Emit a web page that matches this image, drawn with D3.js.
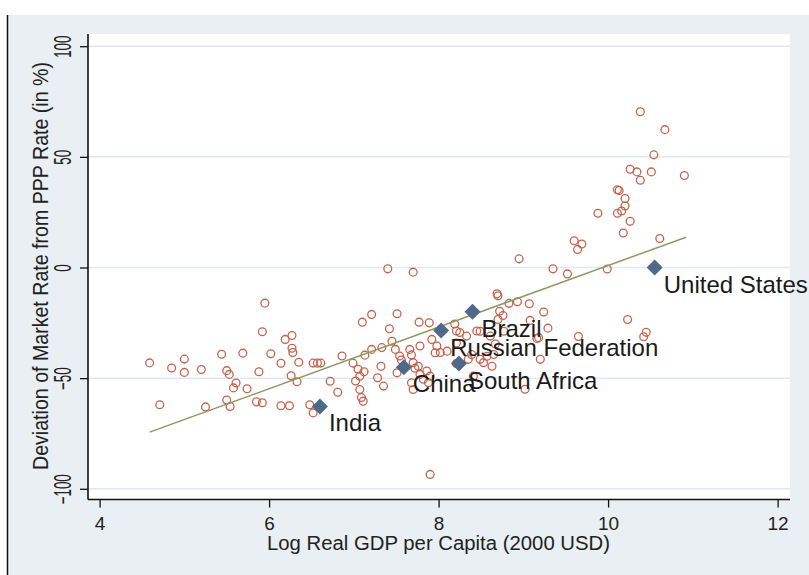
<!DOCTYPE html>
<html><head><meta charset="utf-8">
<script src="https://cdn.jsdelivr.net/npm/d3@7"></script>
<style>body{margin:0;background:#fff}svg{display:block}text{font-family:"Liberation Sans",Arial,sans-serif}</style>
</head><body><svg id="c" width="809" height="575"></svg>
<script>
const xTicks=[4,6,8,10,12];
const yTicks=[-100,-50,0,50,100];
const xTitle="Log Real GDP per Capita (2000 USD)";
const yTitle="Deviation of Market Rate from PPP Rate (in %)";
// other countries
const ptsX=[4.59,4.71,4.85,5.00,5.00,5.20,5.25,5.44,5.50,5.53,5.61,5.58,5.74,5.69,5.50,5.54,5.88,5.85,5.92,5.95,5.92,6.02,6.14,6.14,6.24,6.19,6.27,6.27,6.28,6.26,6.33,6.35,6.48,6.52,6.52,6.57,6.61,6.72,6.81,
6.86,6.99,7.05,7.07,7.02,7.07,7.09,7.11,7.10,7.21,7.51,7.42,7.77,7.89,7.21,7.33,7.32,7.28,7.35,7.51,7.45,7.49,7.54,7.56,7.66,7.68,7.78,7.70,7.72,7.76,7.78,7.82,7.86,7.90,7.88,7.68,7.70,7.92,7.98,7.96,8.02,7.40,7.70,7.90,7.13,7.12,
8.19,8.21,8.25,8.33,8.45,8.10,8.21,8.35,8.39,8.49,8.57,8.53,8.63,8.65,8.21,8.41,8.49,8.61,8.67,8.69,8.70,8.93,9.07,8.83,8.72,8.76,8.70,9.24,9.08,9.29,8.77,9.18,9.20,9.02,9.16,8.95,9.35,9.52,9.99,9.65,10.23,10.45,10.42,
10.38,10.67,10.54,10.26,10.34,10.51,10.38,10.90,10.11,10.13,10.20,10.20,9.88,10.11,10.16,10.26,10.18,10.61,9.60,9.69,9.64];
const ptsY=[-43.1,-62.0,-45.4,-41.4,-47.4,-46.1,-63.0,-39.2,-46.6,-48.3,-52.2,-54.4,-54.8,-38.7,-59.9,-62.8,-47.1,-60.7,-61.1,-16.1,-29.0,-39.0,-43.3,-62.5,-62.5,-32.5,-30.7,-36.5,-38.4,-48.9,-51.6,-42.8,-62.0,-65.7,-43.2,-43.2,-43.2,-51.4,-56.4,
-40.0,-43.2,-46.0,-49.1,-51.3,-55.1,-58.8,-60.4,-24.7,-21.2,-20.9,-27.7,-24.7,-25.0,-37.0,-36.2,-44.6,-49.8,-53.6,-47.6,-33.3,-37.0,-40.0,-41.8,-37.0,-39.5,-35.5,-43.0,-45.5,-44.6,-48.3,-50.5,-46.8,-49.1,-52.1,-52.1,-55.1,-32.5,-35.5,-38.5,-38.4,-0.6,-2.1,-93.5,-39.6,-47.1,
-25.5,-28.7,-29.4,-31.0,-28.7,-37.8,-34.1,-41.5,-39.3,-41.5,-40.1,-43.0,-44.6,-39.3,-43.4,-49.1,-28.8,-31.0,-34.6,-11.9,-12.8,-15.5,-16.4,-16.2,-19.8,-21.7,-23.5,-20.1,-23.9,-27.4,-28.8,-31.7,-41.5,-55.0,-32.1,3.9,-0.6,-2.9,-0.7,-31.2,-23.5,-29.3,-31.3,
70.4,62.3,50.9,44.4,43.2,43.2,39.4,41.6,35.1,34.8,31.2,27.8,24.5,24.5,25.5,20.9,15.6,13.1,12.1,10.6,8.1];
// labelled countries
const hiNames=["United States","Brazil","Russian Federation","South Africa","China","India"];
const hiX=[10.55,8.40,8.03,8.24,7.59,6.60];
const hiY=[0,-20.0,-28.5,-43.4,-45.1,-62.8];
// fitted line
const fitX=[4.59,10.92];
const fitY=[-74.4,13.7];

const svg=d3.select("#c");
svg.append("rect").attr("width",809).attr("height",575).attr("fill","#e9eff3");
svg.append("rect").attr("width",809).attr("height",15).attr("fill","#ffffff");
svg.append("rect").attr("x",0).attr("y",15).attr("width",7).attr("height",560).attr("fill","#ffffff");
svg.append("line").attr("x1",7.5).attr("x2",7.5).attr("y1",15).attr("y2",575).attr("stroke","#111").attr("stroke-width",1.5);

const L=88,R=790,T=34,B=499.5;
svg.append("rect").attr("x",L).attr("y",T).attr("width",R-L).attr("height",B-T).attr("fill","#ffffff");

const x=d3.scaleLinear().domain([4,12]).range([99.6,777.6]);
const y=d3.scaleLinear().domain([-100,100]).range([488.8,46.2]);

// gridlines
svg.append("g").selectAll("line").data(yTicks).join("line")
  .attr("x1",L).attr("x2",R).attr("y1",d=>y(d)).attr("y2",d=>y(d))
  .attr("stroke","#dfe9f1").attr("stroke-width",1.5);

// axes
const gx=svg.append("g").attr("transform",`translate(0,${B})`)
  .call(d3.axisBottom(x).tickValues(xTicks).tickSize(8).tickFormat(d3.format("d")));
gx.select(".domain").remove();
gx.selectAll(".tick line").attr("stroke","#111").attr("stroke-width",1.3);
gx.selectAll(".tick text").attr("y",30.5).attr("dy",0).attr("font-size",19).attr("fill","#222")
  .attr("font-family","Liberation Sans, Arial, sans-serif");
svg.append("line").attr("x1",L).attr("x2",R).attr("y1",B).attr("y2",B).attr("stroke","#111").attr("stroke-width",1.6);

const gy=svg.append("g").attr("transform",`translate(${L},0)`)
  .call(d3.axisLeft(y).tickValues(yTicks).tickSize(8).tickFormat(d3.format("d")));
gy.select(".domain").remove();
gy.selectAll(".tick line").attr("stroke","#111").attr("stroke-width",1.3);
gy.selectAll(".tick text").attr("x",null).attr("dy",null)
  .attr("transform","translate(-17,0) rotate(-90) scale(0.58,1)")
  .attr("text-anchor","middle").attr("font-size",23).attr("fill","#222")
  .attr("font-family","Liberation Sans, Arial, sans-serif");
svg.append("line").attr("x1",L).attr("x2",L).attr("y1",T).attr("y2",B).attr("stroke","#111").attr("stroke-width",1.6);

// titles
svg.append("text").attr("x",438.5).attr("y",550).attr("text-anchor","middle")
  .attr("font-size",20).attr("fill","#222").attr("textLength",343).attr("lengthAdjust","spacingAndGlyphs").text(xTitle);
svg.append("text").attr("transform","translate(48,266) rotate(-90)").attr("text-anchor","middle")
  .attr("font-size",22).attr("fill","#222").attr("textLength",408).attr("lengthAdjust","spacingAndGlyphs").text(yTitle);

// scatter
const pts=ptsX.map((v,i)=>[v,ptsY[i]]);
svg.append("g").selectAll("circle").data(pts).join("circle")
  .attr("cx",d=>x(d[0])).attr("cy",d=>y(d[1])).attr("r",3.9)
  .attr("fill","none").attr("stroke","#c4634c").attr("stroke-width",1.3);

// fit line
svg.append("line").attr("x1",x(fitX[0])).attr("y1",y(fitY[0])).attr("x2",x(fitX[1])).attr("y2",y(fitY[1]))
  .attr("stroke","#8d9a63").attr("stroke-width",1.5);

// highlighted
const hi=hiNames.map((n,i)=>({n,x:hiX[i],y:hiY[i]}));
svg.append("g").selectAll("path").data(hi).join("path")
  .attr("transform",d=>`translate(${x(d.x)},${y(d.y)})`)
  .attr("d","M0,-8L8,0L0,8L-8,0Z").attr("fill","#50698a");
svg.append("g").selectAll("text").data(hi).join("text")
  .attr("x",d=>x(d.x)+9).attr("y",d=>y(d.y)+25)
  .attr("font-size",24).attr("fill","#1a1a1a").text(d=>d.n);
</script></body></html>
